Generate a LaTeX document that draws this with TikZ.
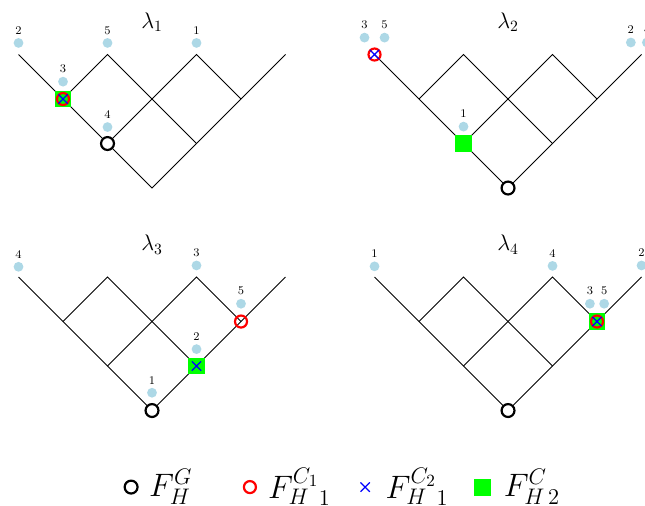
\documentclass[tikz,border=0pt]{standalone}
\usepackage{tikz}
\usetikzlibrary{positioning,shapes.misc}
\definecolor{lightblue}{HTML}{ADD8E6}
\tikzset{
	edge/.style={line width=0.6pt},
	gmark/.style={circle,draw=black,line width=1.4pt,fill=white,minimum size=0.29cm,inner sep=0pt},
	cone/.style={circle,draw=red,line width=1.4pt,minimum size=0.27cm,inner sep=0pt},
	ctwo/.style={cross out,draw=blue,line width=0.8pt,minimum size=0.18cm,inner sep=0pt},
	csq/.style={rectangle,fill=green,minimum size=0.38cm,inner sep=0pt},
	dot/.style={circle,fill=lightblue,minimum size=0.22cm,inner sep=0pt},
	num/.style={font=\fontsize{7.5}{9}\selectfont,inner sep=0pt},
	title/.style={font=\Large},
	legtext/.style={font=\fontsize{21}{25}\selectfont,inner sep=0pt}
}
% lattice of one panel, #1 = prefix, #2 = title
\newcommand{\lattice}[2]{%
	\coordinate (#1-b) at (0,0);
	\coordinate (#1-l1) at (-1,1);
	\coordinate (#1-r1) at (1,1);
	\coordinate (#1-l2) at (-2,2);
	\coordinate (#1-m2) at (0,2);
	\coordinate (#1-r2) at (2,2);
	\coordinate (#1-l3) at (-3,3);
	\coordinate (#1-ml3) at (-1,3);
	\coordinate (#1-mr3) at (1,3);
	\coordinate (#1-r3) at (3,3);
	\draw[edge] (#1-l3) -- (#1-l2) -- (#1-l1) -- (#1-b) -- (#1-r1) -- (#1-r2) -- (#1-r3);
	\draw[edge] (#1-l2) -- (#1-ml3) -- (#1-m2) -- (#1-r1);
	\draw[edge] (#1-l1) -- (#1-m2) -- (#1-mr3) -- (#1-r2);
	\node[title] (#1-title) at (0,3.73) {#2};
}
% blue dot with its number
\newcommand{\occ}[5]{%
	\node[dot,xshift=#3,yshift=#4] (#1) at (#2) {};
	\node[num,above=2pt of #1] (#1-n) {#5};
}

\begin{document}
\begin{tikzpicture}
	\useasboundingbox (-3.416,-7.123) rectangle (11.078,4.225);

	% lambda 1
	\begin{scope}
		\lattice{a}{$\lambda_1$}
		\node[csq] (a-sq) at (a-l2) {};
		\node[cone] (a-c1) at (a-l2) {};
		\node[ctwo] (a-c2) at (a-l2) {};
		\node[gmark] (a-g) at (a-l1) {};
		\occ{a-d2}{a-l3}{0cm}{0.26cm}{2}
		\occ{a-d3}{a-l2}{0cm}{0.39cm}{3}
		\occ{a-d4}{a-l1}{0cm}{0.37cm}{4}
		\occ{a-d5}{a-ml3}{0cm}{0.26cm}{5}
		\occ{a-d1}{a-mr3}{0cm}{0.26cm}{1}
	\end{scope}

	% lambda 2
	\begin{scope}[shift={(8,0)}]
		\lattice{b}{$\lambda_2$}
		\node[cone] (b-c1) at (b-l3) {};
		\node[ctwo] (b-c2) at (b-l3) {};
		\node[csq] (b-sq) at (b-l1) {};
		\node[gmark] (b-g) at (b-b) {};
		\occ{b-d3}{b-l3}{-0.225cm}{0.38cm}{3}
		\occ{b-d5}{b-l3}{0.225cm}{0.38cm}{5}
		\occ{b-d1}{b-l1}{0cm}{0.38cm}{1}
		\occ{b-d2}{b-r3}{-0.24cm}{0.27cm}{2}
		\occ{b-d4}{b-r3}{0.12cm}{0.27cm}{4}
	\end{scope}

	% lambda 3
	\begin{scope}[shift={(0,-5)}]
		\lattice{c}{$\lambda_3$}
		\node[gmark] (c-g) at (c-b) {};
		\node[csq] (c-sq) at (c-r1) {};
		\node[ctwo] (c-c2) at (c-r1) {};
		\node[cone] (c-c1) at (c-r2) {};
		\occ{c-d4}{c-l3}{0cm}{0.23cm}{4}
		\occ{c-d1}{c-b}{0cm}{0.40cm}{1}
		\occ{c-d2}{c-r1}{0cm}{0.38cm}{2}
		\occ{c-d3}{c-mr3}{0cm}{0.26cm}{3}
		\occ{c-d5}{c-r2}{0cm}{0.40cm}{5}
	\end{scope}

	% lambda 4
	\begin{scope}[shift={(8,-5)}]
		\lattice{d}{$\lambda_4$}
		\node[gmark] (d-g) at (d-b) {};
		\node[csq] (d-sq) at (d-r2) {};
		\node[cone] (d-c1) at (d-r2) {};
		\node[ctwo] (d-c2) at (d-r2) {};
		\occ{d-d1}{d-l3}{0cm}{0.24cm}{1}
		\occ{d-d4}{d-mr3}{0cm}{0.25cm}{4}
		\occ{d-d2}{d-r3}{0cm}{0.26cm}{2}
		\occ{d-d3}{d-r2}{-0.16cm}{0.40cm}{3}
		\occ{d-d5}{d-r2}{0.16cm}{0.40cm}{5}
	\end{scope}

	% legend
	\node[gmark] (lg-g) at (-0.47,-6.72) {};
	\node[legtext,right=0.23cm of lg-g] (lg-gt) {$F^G_H$};
	\node[cone] (lg-c1) at (2.20,-6.72) {};
	\node[legtext,right=0.24cm of lg-c1] (lg-c1t) {${F^{C_1}_H}_1$};
	\node[ctwo] (lg-c2) at (4.79,-6.72) {};
	\node[legtext,right=0.35cm of lg-c2] (lg-c2t) {${F^{C_2}_H}_1$};
	\node[csq] (lg-sq) at (7.42,-6.72) {};
	\node[legtext,right=0.28cm of lg-sq] (lg-sqt) {$F^C_{H\,2}$};
\end{tikzpicture}
\end{document}
